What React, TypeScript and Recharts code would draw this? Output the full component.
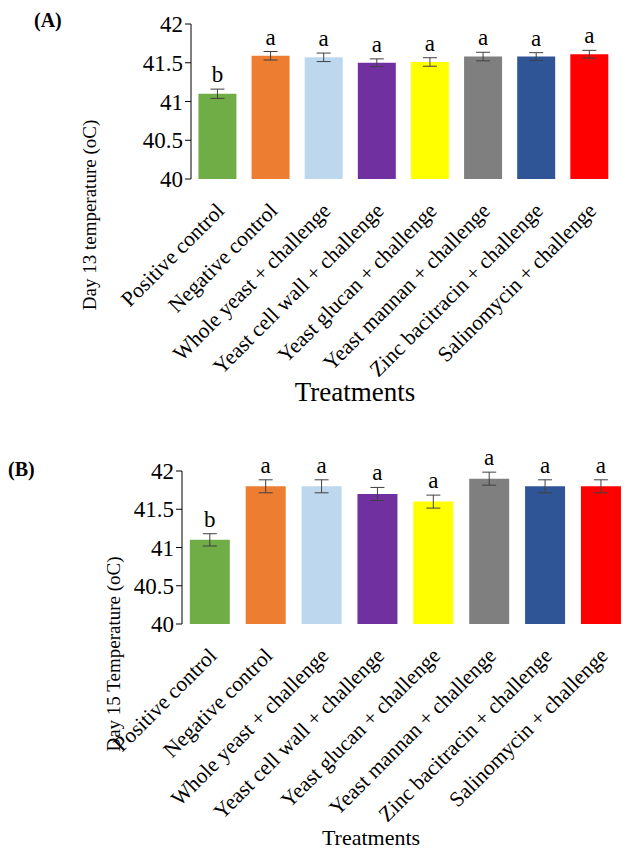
import React from 'react';
import { BarChart, Bar, XAxis, YAxis, ErrorBar, LabelList, Cell } from 'recharts';

const treatments = [
  'Positive control',
  'Negative control',
  'Whole yeast + challenge',
  'Yeast cell wall + challenge',
  'Yeast glucan + challenge',
  'Yeast mannan + challenge',
  'Zinc bacitracin + challenge',
  'Salinomycin + challenge',
];
const barColors = ['#70AD47', '#ED7D31', '#BDD7EE', '#7030A0', '#FFFF00', '#7F7F7F', '#2F5597', '#FF0000'];

const day13Temp = [41.1, 41.59, 41.57, 41.5, 41.51, 41.58, 41.58, 41.61];
const day13Err = [0.06, 0.055, 0.055, 0.05, 0.055, 0.055, 0.05, 0.05];
const day13Letters = ['b', 'a', 'a', 'a', 'a', 'a', 'a', 'a'];

const day15Temp = [41.1, 41.8, 41.8, 41.7, 41.6, 41.9, 41.8, 41.8];
const day15Err = [0.08, 0.085, 0.085, 0.085, 0.085, 0.085, 0.085, 0.085];
const day15Letters = ['b', 'a', 'a', 'a', 'a', 'a', 'a', 'a'];

const yTicks = [40, 40.5, 41, 41.5, 42];
const boundTicks = [0, 1, 2, 3, 4, 5, 6, 7, 8];

const FONT = '"Liberation Serif", "Times New Roman", serif';

const makeRows = (vals: number[], errs: number[], letters: string[]) =>
  treatments.map((t, i) => ({ name: t, value: vals[i], err: errs[i], letter: letters[i] }));

const day13Data = makeRows(day13Temp, day13Err, day13Letters);
const day15Data = makeRows(day15Temp, day15Err, day15Letters);

const SlantTick = (props: any) => {
  const { x, y, payload } = props;
  const ax = x + 8;
  const ay = y + 33;
  return (
    <text x={ax} y={ay} transform={`rotate(-45 ${ax} ${ay})`} textAnchor="end" fontSize={21.5} fontFamily={FONT} fill="#000">
      {payload.value}
    </text>
  );
};

const AxisTitle = (props: any) => {
  const { posX, posY, text, size, rotate } = props;
  return (
    <text
      x={posX}
      y={posY}
      textAnchor="middle"
      dominantBaseline="central"
      transform={rotate ? `rotate(-90 ${posX} ${posY})` : undefined}
      fontSize={size}
      fontFamily={FONT}
      fill="#000"
    >
      {text}
    </text>
  );
};

const letterContent = (rows: any[]) => (props: any) => {
  const { x, y, width, height, index, value } = props;
  const row = rows[index];
  const perUnit = height / (row.value - 40);
  const capTop = y - row.err * perUnit;
  return (
    <text x={x + width / 2} y={capTop - 7} textAnchor="middle" fontSize={23} fontFamily={FONT} fill="#000">
      {value}
    </text>
  );
};

type PanelProps = {
  data: any[];
  top: number;
  height: number;
  margin: { top: number; right: number; left: number; bottom: number };
  yWidth: number;
  xHeight: number;
  yTitle: string;
  yTitlePos: [number, number];
  xTitlePos: [number, number];
  xTitleSize: number;
  tag: string;
  tagPos: [number, number];
};

const Panel = (p: PanelProps) => (
  <div style={{ position: 'absolute', left: 0, top: p.top, width: 630, height: p.height }}>
    <BarChart width={630} height={p.height} data={p.data} margin={p.margin} barCategoryGap="14%">
      <XAxis
        xAxisId="bounds"
        type="number"
        domain={[0, 8]}
        allowDataOverflow
        ticks={boundTicks}
        tick={false}
        tickSize={6}
        height={0}
        stroke="#000"
      />
      <XAxis
        dataKey="name"
        interval={0}
        axisLine={false}
        tickLine={false}
        tickSize={0}
        tickMargin={0}
        height={p.xHeight}
        tick={<SlantTick />}
        label={<AxisTitle posX={p.xTitlePos[0]} posY={p.xTitlePos[1]} text="Treatments" size={p.xTitleSize} />}
      />
      <YAxis
        domain={[40, 42]}
        ticks={yTicks}
        width={p.yWidth}
        tickSize={6}
        tickMargin={2}
        stroke="#000"
        tick={{ fontSize: 23, fontFamily: FONT, fill: '#000' }}
        label={<AxisTitle posX={p.yTitlePos[0]} posY={p.yTitlePos[1]} text={p.yTitle} size={19} rotate />}
      />
      <Bar dataKey="value" isAnimationActive={false}>
        {p.data.map((d, i) => (
          <Cell key={d.name} fill={barColors[i]} />
        ))}
        <ErrorBar dataKey="err" width={7} stroke="#404040" strokeWidth={1} />
        <LabelList dataKey="letter" content={letterContent(p.data)} />
      </Bar>
    </BarChart>
    <div
      style={{
        position: 'absolute',
        left: p.tagPos[0],
        top: p.tagPos[1],
        fontFamily: FONT,
        fontWeight: 'bold',
        fontSize: 20,
        lineHeight: '20px',
      }}
    >
      {p.tag}
    </div>
  </div>
);

export default function App() {
  return (
    <div style={{ position: 'absolute', left: 0, top: 0, width: 630, height: 851, background: '#fff' }}>
      <Panel
        data={day13Data}
        top={0}
        height={420}
        margin={{ top: 24, right: 14, left: 0, bottom: 0 }}
        yWidth={191}
        xHeight={241}
        yTitle="Day 13 temperature (oC)"
        yTitlePos={[89, 215]}
        xTitlePos={[355, 392]}
        xTitleSize={27}
        tag="(A)"
        tagPos={[34, 10]}
      />
      <Panel
        data={day15Data}
        top={430}
        height={421}
        margin={{ top: 41, right: 1, left: 0, bottom: 0 }}
        yWidth={182}
        xHeight={227}
        yTitle="Day 15 Temperature (oC)"
        yTitlePos={[113, 224]}
        xTitlePos={[371, 407]}
        xTitleSize={22}
        tag="(B)"
        tagPos={[8, 29]}
      />
    </div>
  );
}
